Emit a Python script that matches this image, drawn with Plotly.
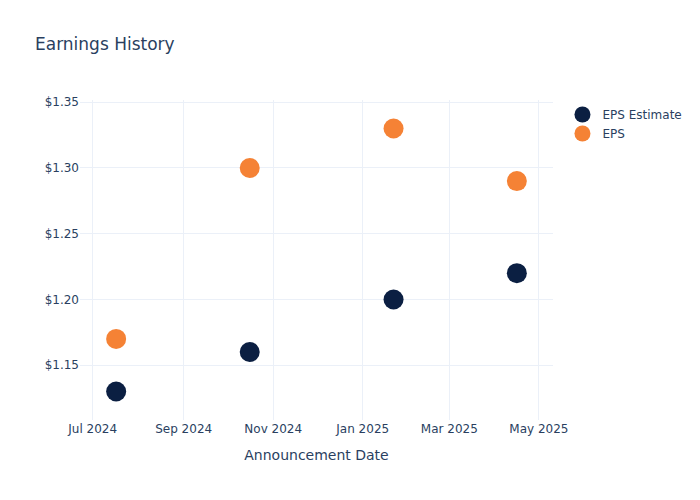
import plotly.graph_objects as go

# даты отчётов и значения EPS
dates = ["2024-07-17", "2024-10-16", "2025-01-22", "2025-04-16"]
eps_estimate = [1.13, 1.16, 1.20, 1.22]
eps_actual = [1.17, 1.30, 1.33, 1.29]

fig = go.Figure()
fig.add_trace(go.Scatter(x=dates, y=eps_estimate, mode="markers", name="EPS Estimate",
                         marker=dict(color="#0b1f42", size=20)))
fig.add_trace(go.Scatter(x=dates, y=eps_actual, mode="markers", name="EPS",
                         marker=dict(color="#f58235", size=20)))

# страница рисуется со сдвигом 8px, поэтому поля уменьшены
fig.update_layout(
    template="plotly_white",
    width=700, height=500,
    font=dict(family="DejaVu Sans"),
    margin=dict(l=72, r=155, t=92, b=88),
    title=dict(text="Earnings History", x=27 / 700, y=1 - 36 / 500,
               xanchor="left", yanchor="middle"),
    xaxis=dict(title="Announcement Date", tickformat="%b %Y", dtick="M2"),
    yaxis=dict(tickprefix="$", tickformat=".2f"),
)
fig.write_html("out.html")
